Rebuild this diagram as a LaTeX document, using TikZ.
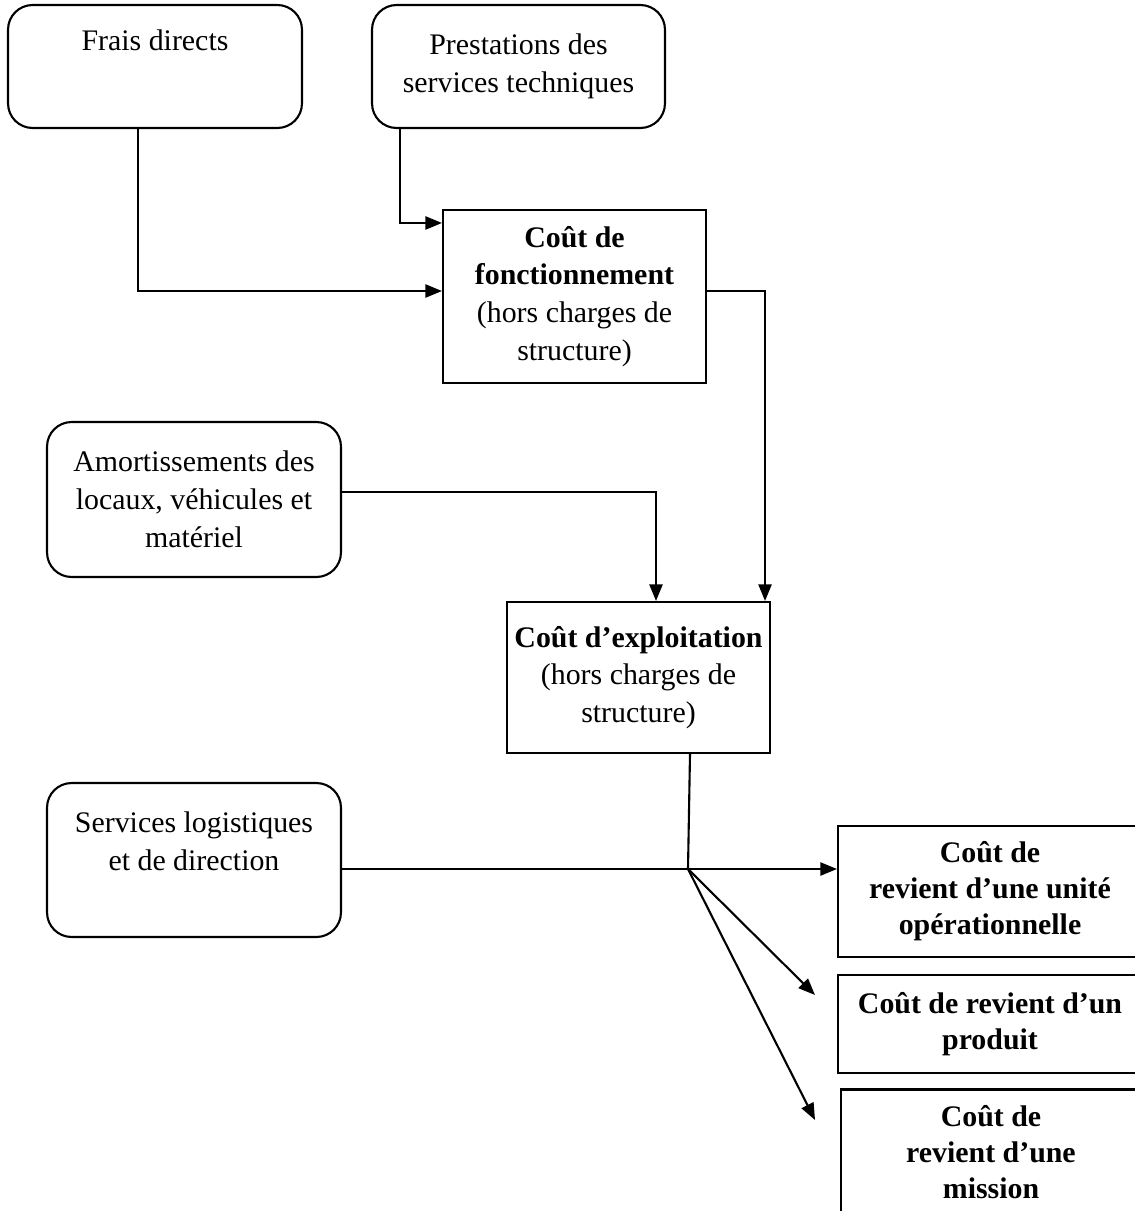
\documentclass[tikz,border=0pt]{standalone}
\usepackage{fontspec}
\setmainfont{Liberation Serif}
\usetikzlibrary{arrows.meta,calc}
\tikzset{
  box/.style={draw,line width=1.2pt,inner sep=0pt,align=center,
    font=\fontsize{17}{21.5}\selectfont},
  roundbox/.style={box,rounded corners=14pt},
  costbox/.style={box,font=\fontsize{17}{20.5}\selectfont\bfseries},
  arr/.style={line width=1.2pt,-{Triangle[length=9.5pt,width=7.5pt]}},
  ln/.style={line width=1.2pt}
}

\begin{document}
\begin{tikzpicture}[x=0.02cm,y=-0.02cm]
      \clip (0,0) rectangle (1135,1211);
      % sources
      \node[roundbox,minimum width=5.88cm,minimum height=2.46cm] (frais) at (155,66.5) {Frais directs\\[8pt]\mbox{}};
      \node[roundbox,minimum width=5.86cm,minimum height=2.46cm] (prest) at (518.5,66.5) {Prestations des\\services techniques};
      \node[roundbox,minimum width=5.88cm,minimum height=3.1cm] (amort) at (194,499.5) {Amortissements des\\locaux, véhicules et\\matériel};
      \node[roundbox,minimum width=5.88cm,minimum height=3.08cm] (serv) at (194,860) {Services logistiques\\et de direction\\\mbox{}};
      % couts
      \node[box,minimum width=5.26cm,minimum height=3.46cm] (fonct) at (574.5,296.5) {\textbf{Coût de}\\\textbf{fonctionnement}\\(hors charges de\\structure)};
      \node[box,minimum width=5.26cm,minimum height=3.02cm] (expl) at (638.5,677.5) {\textbf{Coût d’exploitation}\\(hors charges de\\structure)};
      \node[costbox,minimum width=6.08cm,minimum height=2.62cm] (unite) at (990,891.5) {Coût de\\revient d’une unité\\opérationnelle};
      \node[costbox,minimum width=6.08cm,minimum height=1.96cm] (produit) at (990,1024) {Coût de revient d’un\\produit};
      \node[costbox,minimum width=6.0cm,minimum height=2.5cm] (mission) at (991,1152) {Coût de\\revient d’une\\mission};
      % points
      \coordinate (hub) at (688,869);
      \coordinate (tipA) at (815,995);
      \coordinate (tipB) at (815,1120);

      \draw[arr] ($(frais.south)+(-17,0)$) |- ($(fonct.west)+(0,-5.5)$);
      \draw[arr] ($(prest.south)+(-118.5,0)$) |- ($(fonct.north west)+(0,14)$);
      \draw[arr] ($(fonct.east)+(0,-5.5)$) -| ($(expl.north east)+(-6,0)$);
      \draw[arr] ($(amort.east)+(0,-7.5)$) -| ($(expl.north)+(17.5,0)$);
      \draw[ln] ($(expl.south)+(51.5,0)$) -- (hub);
      \draw[ln] ($(serv.east)+(0,9)$) -- (hub);
      \draw[arr] (hub) -- ($(unite.west)+(0,-22.5)$);
      \draw[arr] (hub) -- (tipA);
      \draw[arr] (hub) -- (tipB);
    \end{tikzpicture}
\end{document}
